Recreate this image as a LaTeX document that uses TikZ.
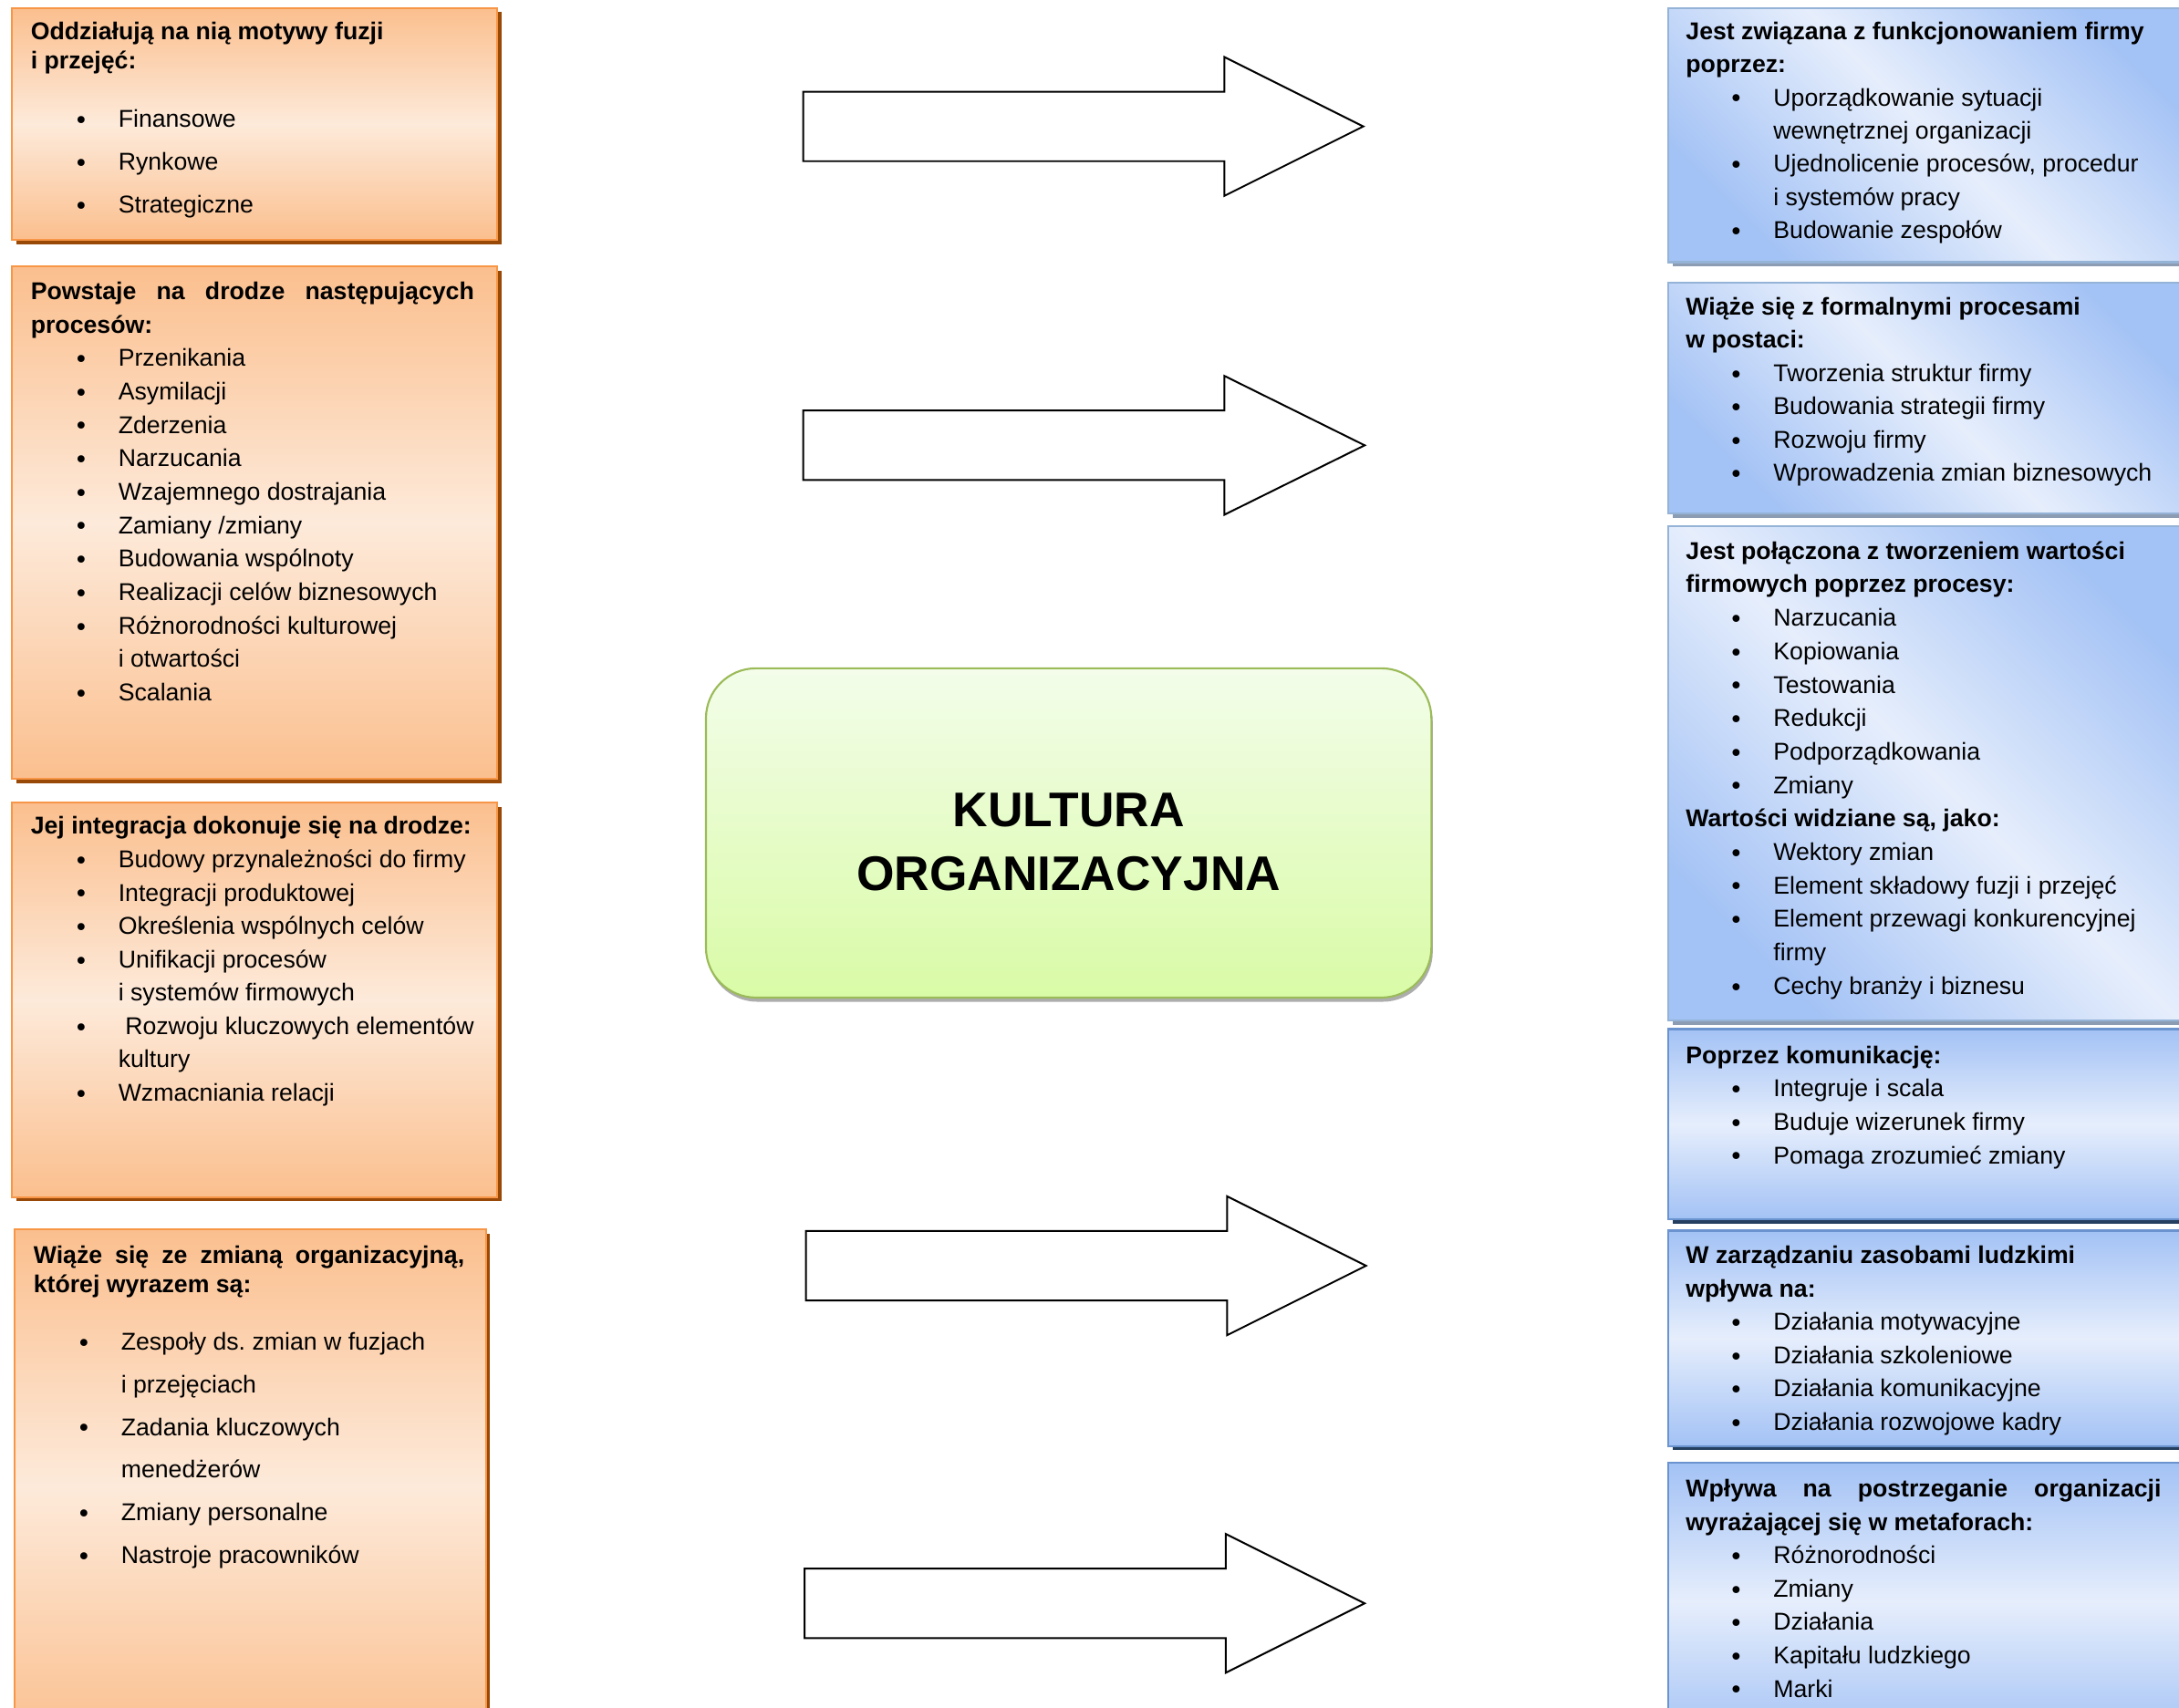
\documentclass[tikz,border=0pt]{standalone}
\usepackage{fontspec}
\setmainfont{Liberation Sans}
\newfontfamily\bulfont{DejaVu Sans}
\usetikzlibrary{shadows}
\frenchspacing
\definecolor{oBorder}{HTML}{F79646}
\definecolor{oDark}{HTML}{FBBF8E}
\definecolor{oLight}{HTML}{FDEADA}
\definecolor{oShadow}{HTML}{984807}
\definecolor{bDark}{HTML}{A3C2F5}
\definecolor{bLight}{HTML}{E6EEFC}
\definecolor{bBorderA}{HTML}{95B3D7}
\definecolor{bBorderB}{HTML}{6A93CF}
\definecolor{bShadowA}{HTML}{8C9DB3}
\definecolor{bShadowB}{HTML}{243F60}
\definecolor{gTop}{HTML}{F3FDEA}
\definecolor{gBot}{HTML}{D9FBA6}
\definecolor{gBorder}{HTML}{9BBB59}
\newcommand{\bulletmark}{\raisebox{-1.2pt}{\bulfont •}}
\newcommand{\itm}[1]{\par\hspace*{31pt}\makebox[32pt][l]{\bulletmark}#1}
\newcommand{\cnt}[1]{\par\hspace*{63pt}#1}
\newcommand{\ttl}[1]{\par{\bfseries #1}}
\newcommand{\tb}[2]{\parbox[t]{380pt}{\fontsize{17.5}{#1}\selectfont #2}}
\tikzset{
  x=1pt, y=1pt,
  obox/.style={draw=oBorder, line width=1.4pt, anchor=north west, inner sep=0,
    top color=oDark, bottom color=oDark, middle color=oLight,
    drop shadow={fill=oShadow, opacity=1, shadow xshift=3pt, shadow yshift=-3pt}},
  bboxA/.style={draw=bBorderA, line width=1.4pt, anchor=north west, inner sep=0,
    top color=bDark, bottom color=bDark, middle color=bLight, shading angle=-45,
    drop shadow={fill=bShadowA, opacity=1, shadow xshift=3pt, shadow yshift=-3pt}},
  bboxB/.style={draw=bBorderB, line width=1.4pt, anchor=north west, inner sep=0,
    top color=bDark, bottom color=bDark, middle color=bLight,
    drop shadow={fill=bShadowB, opacity=1, shadow xshift=3pt, shadow yshift=-3pt}},
  gbox/.style={draw=gBorder, line width=1.4pt, rounded corners=36pt, inner sep=0,
    top color=gTop, bottom color=gBot,
    drop shadow={fill=black!40, opacity=0.8, shadow xshift=1pt, shadow yshift=-3pt}},
  txt/.style={inner sep=0, anchor=base west, yshift=-1.5pt},
  barrow/.style={draw=black, fill=white, line width=1.3pt, line join=miter}
}
\newcommand{\blockarrow}[4]{% left x, head base x, tip x, center y
  \draw[barrow] (#1,{-(#4)+25}) -- (#2,{-(#4)+25}) -- (#2,{-(#4)+50}) -- (#3,{-(#4)})
    -- (#2,{-(#4)-50}) -- (#2,{-(#4)-25}) -- (#1,{-(#4)-25}) -- cycle;}
\begin{document}
\begin{tikzpicture}
\useasboundingbox (0,0) rectangle (1568,-1229);
\clip (0,0) rectangle (1568,-1229);
\fill[white] (0,0) rectangle (1568,-1229);

% left orange boxes
\node[obox, minimum width=349pt, minimum height=167pt] (L1) at (8,-5) {};
\node[obox, minimum width=349pt, minimum height=369pt] (L2) at (8,-191) {};
\node[obox, minimum width=349pt, minimum height=284pt] (L3) at (8,-577) {};
\node[obox, minimum width=339pt, minimum height=370pt] (L4) at (10,-884) {};

% right blue boxes
\node[bboxA, minimum width=380pt, minimum height=183pt] (R1) at (1200,-5) {};
\node[bboxA, minimum width=380pt, minimum height=166pt] (R2) at (1200,-203) {};
\node[bboxA, minimum width=380pt, minimum height=356pt] (R3) at (1200,-378) {};
\node[bboxB, minimum width=380pt, minimum height=137pt] (R4) at (1200,-740) {};
\node[bboxB, minimum width=380pt, minimum height=155pt] (R5) at (1200,-885) {};
\node[bboxB, minimum width=380pt, minimum height=200pt] (R6) at (1200,-1052) {};

% centre
\node[gbox, minimum width=522pt, minimum height=237pt] (core) at (769,-599.5) {};
\node[inner sep=0, align=center, font=\fontsize{35}{46}\selectfont\bfseries] (coretext) at (769,-606) {KULTURA\\ORGANIZACYJNA};

% arrows
\blockarrow{578}{881}{981}{91}
\blockarrow{578}{881}{982}{320.5}
\blockarrow{580}{883}{983}{911}
\blockarrow{579}{882}{982}{1154}

% texts left
\node[txt] (L1t) at (22,-27) {\tb{21}{\ttl{Oddziałują na nią motywy fuzji}\ttl{i przejęć:}}};
\node[txt] (L1l) at (22,-90) {\tb{31}{\itm{Finansowe}\itm{Rynkowe}\itm{Strategiczne}}};
\node[txt] (L2t) at (22,-214) {\tb{24.08}{%
  \ttl{\makebox[319pt][s]{Powstaje na drodze następujących}}\ttl{procesów:}%
  \itm{Przenikania}\itm{Asymilacji}\itm{Zderzenia}\itm{Narzucania}%
  \itm{Wzajemnego dostrajania}\itm{Zamiany /zmiany}\itm{Budowania wspólnoty}%
  \itm{Realizacji celów biznesowych}\itm{Różnorodności kulturowej}\cnt{i otwartości}%
  \itm{Scalania}}};
\node[txt] (L3t) at (22,-599) {\tb{24}{%
  \ttl{Jej integracja dokonuje się na drodze:}%
  \itm{Budowy przynależności do firmy}\itm{Integracji produktowej}%
  \itm{Określenia wspólnych celów}\itm{Unifikacji procesów}\cnt{i systemów firmowych}%
  \itm{\hspace{4.9pt}Rozwoju kluczowych elementów}\cnt{kultury}\itm{Wzmacniania relacji}}};
\node[txt] (L4t) at (24,-908) {\tb{21}{\ttl{\makebox[310pt][s]{Wiąże się ze zmianą organizacyjną,}}\ttl{której wyrazem są:}}};
\node[txt] (L4l) at (24,-970) {\tb{30.8}{%
  \itm{Zespoły ds. zmian w fuzjach}\cnt{i przejęciach}\itm{Zadania kluczowych}%
  \cnt{menedżerów}\itm{Zmiany personalne}\itm{Nastroje pracowników}}};

% texts right
\node[txt] (R1t) at (1213,-27) {\tb{23.85}{%
  \ttl{Jest związana z funkcjonowaniem firmy}\ttl{poprzez:}%
  \itm{Uporządkowanie sytuacji}\cnt{wewnętrznej organizacji}%
  \itm{Ujednolicenie procesów, procedur}\cnt{i systemów pracy}\itm{Budowanie zespołów}}};
\node[txt] (R2t) at (1213,-225) {\tb{24}{%
  \ttl{Wiąże się z formalnymi procesami}\ttl{w postaci:}%
  \itm{Tworzenia struktur firmy}\itm{Budowania strategii firmy}\itm{Rozwoju firmy}%
  \itm{Wprowadzenia zmian biznesowych}}};
\node[txt] (R3t) at (1213,-401) {\tb{24.08}{%
  \ttl{Jest połączona z tworzeniem wartości}\ttl{firmowych poprzez procesy:}%
  \itm{Narzucania}\itm{Kopiowania}\itm{Testowania}\itm{Redukcji}\itm{Podporządkowania}\itm{Zmiany}%
  \ttl{Wartości widziane są, jako:}%
  \itm{Wektory zmian}\itm{Element składowy fuzji i przejęć}\itm{Element przewagi konkurencyjnej}%
  \cnt{firmy}\itm{Cechy branży i biznesu}}};
\node[txt] (R4t) at (1213,-764) {\tb{24}{%
  \ttl{Poprzez komunikację:}\itm{Integruje i scala}\itm{Buduje wizerunek firmy}\itm{Pomaga zrozumieć zmiany}}};
\node[txt] (R5t) at (1213,-908) {\tb{24}{%
  \ttl{W zarządzaniu zasobami ludzkimi}\ttl{wpływa na:}%
  \itm{Działania motywacyjne}\itm{Działania szkoleniowe}\itm{Działania komunikacyjne}\itm{Działania rozwojowe kadry}}};
\node[txt] (R6t) at (1213,-1076) {\tb{24}{%
  \ttl{\makebox[342pt][s]{Wpływa na postrzeganie organizacji}}\ttl{wyrażającej się w metaforach:}%
  \itm{Różnorodności}\itm{Zmiany}\itm{Działania}\itm{Kapitału ludzkiego}\itm{Marki}}};
\end{tikzpicture}
\end{document}
